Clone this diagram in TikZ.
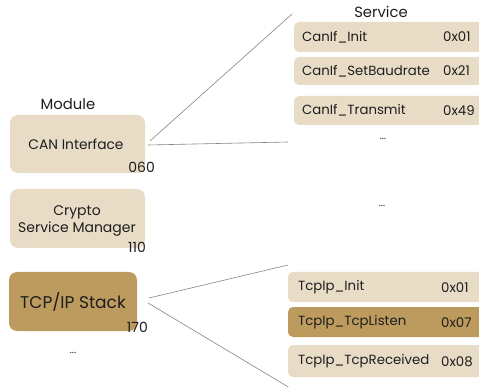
\documentclass[tikz,border=0pt]{standalone}
\usepackage{fontspec}
\setmainfont{Poppins}
\usetikzlibrary{calc}
\definecolor{sand}{HTML}{E9DCC6}
\definecolor{gold}{HTML}{BD9B5E}
\definecolor{wire}{HTML}{8C8282}
\definecolor{ink}{HTML}{1E1E1E}
\begin{document}
\begin{tikzpicture}[x=1pt,y=-1pt,
  modbox/.style={fill=sand,rounded corners=8pt,inner sep=0pt,text=ink,font=\fontsize{13.8}{16}\selectfont,align=center},
  svcbox/.style={fill=sand,rounded corners=5pt,inner sep=0pt},
  hot/.style={fill=gold},
  svcname/.style={anchor=west,text=ink,font=\fontsize{13.3}{15}\selectfont,inner sep=0pt},
  modnum/.style={anchor=east,text=ink,font=\fontsize{14}{16}\selectfont,inner sep=0pt},
  head/.style={text=ink,font=\fontsize{14.8}{17}\selectfont,inner sep=0pt},
  dots/.style={text=ink,font=\fontsize{10}{11}\selectfont,inner sep=0pt},
  link/.style={draw=wire,line width=0.6pt}]
\useasboundingbox (0,0) rectangle (479,387);
\clip (0,0) rectangle (479,387);
\fill[white] (0,0) rectangle (479,387);

% module column
\node[head] (modhead) at (68,104) {Module};
\path[modbox] (10,115) rectangle (145,173);
\node[modbox,fill=none] (can) at (76,144) {CAN Interface};
\node[modnum] (cannum) at (155,167) {060};
\path[modbox] (10,189) rectangle (145,248);
\node[modbox,fill=none,font=\fontsize{14}{17}\selectfont] (csm) at (77,221) {Crypto\\Service Manager};
\node[modnum] (csmnum) at (146,247) {110};
\path[modbox,hot] (9,272) rectangle (137,331);
\node[modbox,fill=none,font=\fontsize{17}{19}\selectfont] (tcp) at (73,302) {TCP/IP Stack};
\node[modnum] (tcpnum) at (148,327) {170};
\node[dots] (moddots) at (73,353) {...};

% service column
\node[head] (svchead) at (381,12) {Service};
\path[svcbox] (294,22) rectangle (485,52);
\path[svcbox] (294,57) rectangle (485,85);
\path[svcbox] (294,96) rectangle (485,125);
\node[svcname] (s1) at (302,37) {CanIf\_Init};
\node[svcname] (s1id) at (443,37) {0x01};
\node[svcname] (s2) at (302,71) {CanIf\_SetBaudrate};
\node[svcname] (s2id) at (443,71) {0x21};
\node[svcname] (s3) at (302,110.5) {CanIf\_Transmit};
\node[svcname] (s3id) at (443,110.5) {0x49};
\node[dots] (candots) at (383,139) {...};
\node[dots] (middots) at (382,206) {...};

\path[svcbox] (288,272) rectangle (485,302);
\path[svcbox,hot] (288,307) rectangle (485,337);
\path[svcbox] (288,345) rectangle (485,377);
\node[svcname] (t1) at (298,287.5) {TcpIp\_Init};
\node[svcname] (t1id) at (441,287.5) {0x01};
\node[svcname] (t2) at (298,322.5) {TcpIp\_TcpListen};
\node[svcname] (t2id) at (441,322.5) {0x07};
\node[svcname] (t3) at (298,361.5) {TcpIp\_TcpReceived};
\node[svcname] (t3id) at (441,361.5) {0x08};

% fan-out from the module to its service list
\coordinate (canA) at (150,141);
\coordinate (canB) at (148,145);
\coordinate (canTop) at (292,14);
\coordinate (canBot) at (288,142);
\coordinate (tcpA) at (149,298);
\coordinate (tcpB) at (148,303);
\coordinate (tcpTop) at (288,265);
\coordinate (tcpBot) at (290,388);
\draw[link] (canA) -- (canTop);
\draw[link] (canB) -- (canBot);
\draw[link] (tcpA) -- (tcpTop);
\draw[link] (tcpB) -- (tcpBot);
\end{tikzpicture}
\end{document}
